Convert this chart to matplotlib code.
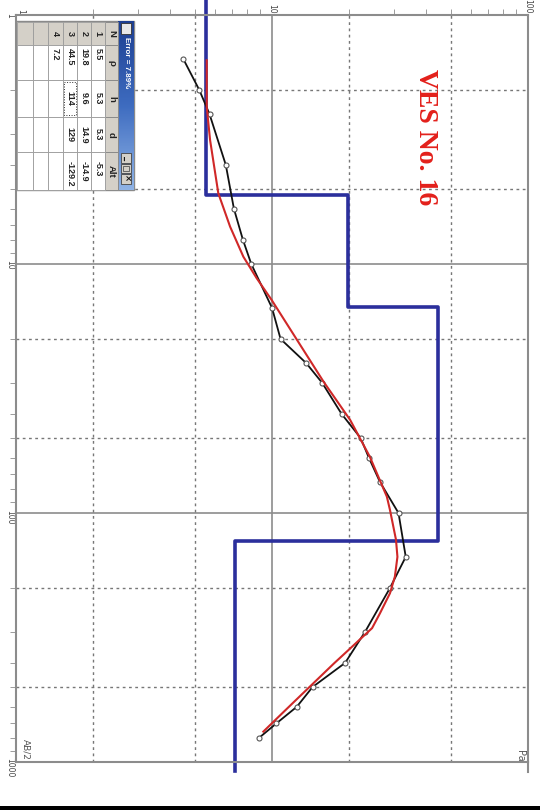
import numpy as np
import matplotlib
matplotlib.use("Agg")
import matplotlib.pyplot as plt
from matplotlib.ticker import LogLocator, NullFormatter, FixedLocator, FixedFormatter
from matplotlib.patches import Rectangle
from matplotlib.colors import LinearSegmentedColormap

# ---------------- data ----------------
# observed apparent resistivity (field data)
ab_obs = [1.5, 2, 2.5, 4, 6, 8, 10, 15, 20, 25, 30, 40, 50, 60, 75,
          100, 150, 200, 300, 400, 500, 600, 700, 800]
rho_obs = [4.5, 5.2, 5.7, 6.6, 7.1, 7.7, 8.3, 10.0, 10.8, 13.6, 15.7, 18.7, 22.2, 23.9, 26.4,
           31.2, 33.3, 28.9, 23.1, 19.3, 14.4, 12.5, 10.4, 8.9]

# calculated (model) curve
ab_calc = [1.52, 2.34, 3.18, 5.2, 7.08, 9.35, 11.4, 13.95, 29.7, 42.3, 59.4, 86, 97.3,
           128, 150, 180, 210, 253, 290, 355, 401, 483, 573, 678, 755]
rho_calc = [5.56, 5.56, 5.73, 6.17, 6.86, 7.73, 8.71, 9.97, 15.9, 20.2, 24.1, 28.1, 28.9,
            30.5, 30.9, 30.2, 28.9, 26.4, 24.6, 19.9, 17.5, 14.5, 12.2, 10.3, 9.25]

# layered model
layer_n = [1, 2, 3, 4]
layer_rho = [5.5, 19.8, 44.5, 7.2]
layer_h = [5.3, 9.6, 114]
layer_d = [5.3, 14.9, 129]
layer_alt = [-5.3, -14.9, -129.2]
model_top, model_bottom = 0.86, 1090
error_text = "Error = 7.89%"
title = "VES No. 16"

x_major = [1, 10, 100]
y_major = [1, 10, 100, 1000]
x_dotted = [2, 5, 20, 50]
y_dotted = [2, 5, 20, 50, 200, 500]

# ---------------- figure ----------------
W, H = 540, 810
fig = plt.figure(figsize=(W / 100, H / 100), dpi=100)
ax = fig.add_axes([16 / W, 1 - 762 / H, 512 / W, 747 / H])
ax.set_xscale('log')
ax.set_yscale('log')
ax.set_xlim(1, 100)
ax.set_ylim(1000, 1)

gcol = '#8c8c8c'
for s in ax.spines.values():
    s.set_color(gcol)
    s.set_linewidth(1.5)

for v in [10]:
    ax.axvline(v, color=gcol, lw=1.2, zorder=1)
for v in [10, 100]:
    ax.axhline(v, color=gcol, lw=1.2, zorder=1)
for v in x_dotted:
    ax.axvline(v, color='#777777', lw=1.0, ls=(0, (2, 2.5)), zorder=1)
for v in y_dotted:
    ax.axhline(v, color='#777777', lw=1.0, ls=(0, (2, 2.5)), zorder=1)

ax.xaxis.tick_top()
ax.xaxis.set_major_locator(FixedLocator(x_major))
ax.xaxis.set_major_formatter(FixedFormatter([str(v) for v in x_major]))
ax.yaxis.set_major_locator(FixedLocator(y_major))
ax.yaxis.set_major_formatter(FixedFormatter([str(v) for v in y_major]))
ax.xaxis.set_minor_locator(LogLocator(base=10, subs=range(2, 10)))
ax.yaxis.set_minor_locator(LogLocator(base=10, subs=range(2, 10)))
ax.xaxis.set_minor_formatter(NullFormatter())
ax.yaxis.set_minor_formatter(NullFormatter())
ax.tick_params(which='both', top=True, bottom=False, left=True, right=False,
               direction='out', color=gcol, labelcolor='#444444', labelsize=5.5)
ax.tick_params(which='major', length=0, pad=1)
ax.tick_params(which='minor', length=4)
ax.tick_params(axis='x', labelrotation=270)
ax.tick_params(axis='y', labelrotation=270)

# model (blue step)
sx, sy = [layer_rho[0]], [model_top]
for i, d in enumerate(layer_d):
    sx += [layer_rho[i], layer_rho[i + 1]]
    sy += [d, d]
sx.append(layer_rho[-1])
sy.append(model_bottom)
ax.plot(sx, sy, color='#2b2f9c', lw=2.6, zorder=2, clip_on=False)

# observed
ax.plot(rho_obs, ab_obs, color='#111111', lw=1.3, marker='o', ms=3.6,
        mfc='white', mec='#555555', mew=0.8, zorder=3)
# calculated
ax.plot(rho_calc, ab_calc, color='#d02828', lw=1.5, zorder=4)

# texts
fig.text(425 / W, 1 - 137 / H, title, rotation=270, ha='center', va='center',
         color='#e3201b', fontsize=20, fontweight='bold', family='Liberation Serif')
fig.text(26 / W, 1 - 749 / H, 'AB/2', rotation=270, ha='center', va='center',
         color='#555555', fontsize=6.5)
fig.text(520 / W, 1 - 756 / H, 'Pa', rotation=270, ha='center', va='center',
         color='#555555', fontsize=7)

# ---------------- overlay (table window, frame bits) ----------------
ov = fig.add_axes([0, 0, 1, 1], zorder=5)
ov.patch.set_alpha(0)
ov.axis('off')

# window frame
ov.add_patch(Rectangle((16, 21), 118, 169, facecolor='white', edgecolor='#8a8a8a', lw=1))
# title bar gradient
cmap = LinearSegmentedColormap.from_list('tb', ['#1d3f92', '#3e6cc0', '#8fb3e6'])
grad = np.linspace(0, 1, 100).reshape(-1, 1)
ov.imshow(grad, extent=(118, 134, 190, 21), cmap=cmap, aspect='auto', zorder=2, origin='upper')
ov.text(126.5, 37, error_text, rotation=270, ha='center', va='top', color='white',
        fontsize=5.8, zorder=3, family='Liberation Sans', fontweight='bold')
# icon
ov.add_patch(Rectangle((121, 23), 10, 11, facecolor='#e8e8e8', edgecolor='#333333', lw=0.6, zorder=3))
# buttons
for y0, g in [(153, '_'), (163.5, ''), (174, '×')]:
    ov.add_patch(Rectangle((121, y0), 10, 9.5, facecolor='#d4d0c8', edgecolor='#444444', lw=0.6, zorder=3))
    if g:
        ov.text(126, y0 + 4.8, g, rotation=270, ha='center', va='center', fontsize=6,
                fontweight='bold', color='#111111', zorder=4)
ov.add_patch(Rectangle((123, 166), 6, 4.5, facecolor='none', edgecolor='#555555', lw=0.6, zorder=4))

# table
col_y = [22, 45, 80, 117, 152, 190]
row_x = [118, 105, 91, 77, 63, 48, 33, 17]
headers = ['N', 'ρ', 'h', 'd', 'Alt']
cell_bg = '#d4d0c8'
# header row
for j in range(5):
    ov.add_patch(Rectangle((105, col_y[j]), 13, col_y[j + 1] - col_y[j], facecolor=cell_bg,
                           edgecolor='#8a8a8a', lw=0.7, zorder=2))
    ov.text(111.5, (col_y[j] + col_y[j + 1]) / 2, headers[j], rotation=270, ha='center',
            va='center', fontsize=6.8, fontweight='bold', color='#222222', zorder=3,
            family='Liberation Sans')
# body rows
for r in range(6):
    x1, x0 = row_x[r + 1], row_x[r + 2]
    for j in range(5):
        fc = cell_bg if j == 0 else 'white'
        ov.add_patch(Rectangle((x0, col_y[j]), x1 - x0, col_y[j + 1] - col_y[j], facecolor=fc,
                               edgecolor='#9a9a9a', lw=0.6, zorder=2))

def cell(r, j, s, align='center'):
    x1, x0 = row_x[r + 1], row_x[r + 2]
    xc = (x0 + x1) / 2
    if align == 'center':
        ov.text(xc, (col_y[j] + col_y[j + 1]) / 2, s, rotation=270, ha='center', va='center',
                fontsize=6.5, fontweight='bold', color='#222222', zorder=3, family='Liberation Sans')
    else:
        ov.text(xc, col_y[j] + 3, s, rotation=270, ha='center', va='top',
                fontsize=6.5, fontweight='bold', color='#222222', zorder=3, family='Liberation Sans')

def fmt(v):
    return ('%g' % v)

for r in range(4):
    cell(r, 0, str(layer_n[r]))
    cell(r, 1, fmt(layer_rho[r]), 'left')
    if r < 3:
        cell(r, 2, fmt(layer_h[r]))
        cell(r, 3, fmt(layer_d[r]))
        ov.text((row_x[r + 1] + row_x[r + 2]) / 2, col_y[4] + 9, fmt(layer_alt[r]), rotation=270,
                ha='center', va='top', fontsize=6.5, fontweight='bold', color='#222222', zorder=3,
                family='Liberation Sans')
# focus rectangle
ov.add_patch(Rectangle((row_x[4] + 1, col_y[2] + 2), row_x[3] - row_x[4] - 2, col_y[3] - col_y[2] - 4,
                       facecolor='none', edgecolor='#333333', lw=0.7, ls=':', zorder=4))

# frame bits
ov.plot([528, 528], [762, 772], color=gcol, lw=1.5)
ov.add_patch(Rectangle((0, 806), 540, 4, facecolor='black', edgecolor='none'))

ov.set_xlim(0, W)
ov.set_ylim(H, 0)

# separate the two corner "1" labels
fig.canvas.draw()
ax.get_xticklabels()[0].set_horizontalalignment('left')
ax.get_yticklabels()[0].set_verticalalignment('center')
ax.get_yticklabels()[0].set_horizontalalignment('right')

fig.savefig('out.png', dpi=100)
